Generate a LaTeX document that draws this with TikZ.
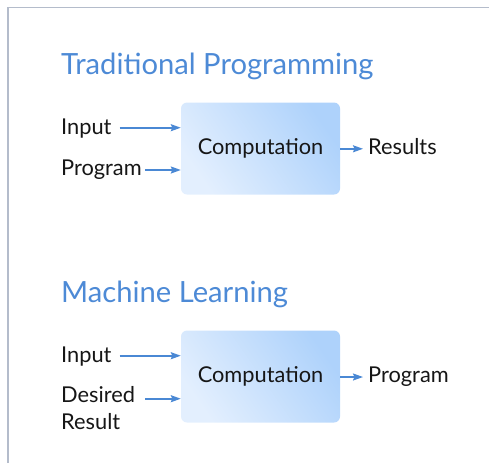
\documentclass[tikz,border=0pt]{standalone}
\usepackage{fontspec}
\setmainfont{Lato}
\usetikzlibrary{arrows.meta,calc}
\definecolor{framegray}{HTML}{B4BCCB}
\definecolor{titleblue}{HTML}{4D8AD6}
\definecolor{arrowblue}{HTML}{4A88D4}
\definecolor{boxdark}{HTML}{AED2FB}
\definecolor{boxlight}{HTML}{E3EFFE}
\definecolor{ink}{HTML}{161616}
\tikzset{
  title/.style={anchor=base west, inner sep=0pt, text=titleblue,
    font=\fontsize{29.2}{35}\selectfont},
  label/.style={anchor=base west, inner sep=0pt, text=ink,
    font=\fontsize{21.8}{26.5}\selectfont},
  compbox/.style={rounded corners=6pt, minimum width=159pt, minimum height=92pt,
    top color=boxdark, bottom color=boxlight, shading angle=-55,
    text=ink, font=\fontsize{21.8}{26.5}\selectfont, inner sep=0pt},
  flow/.style={draw=arrowblue, line width=1.6pt,
    -{Stealth[length=10pt,width=7pt,inset=1.5pt]}},
}
\begin{document}
\begin{tikzpicture}[x=1pt,y=-1pt]
\useasboundingbox (0,0) rectangle (489,463);
% panel frame
\draw[framegray, line width=1.5pt] (8,463) -- (8,7.5) -- (489,7.5);

% traditional programming
\node[title] (t1) at (61,74) {Traditional Programming};
\node[compbox] (c1) at (260.5,148.5) {Computation};
\node[label] (in1) at (61,134.3) {Input};
\node[label] (pr1) at (61,175.5) {Program};
\node[label] (res1) at (368,154.3) {Results};
\draw[flow] ([xshift=8pt,yshift=6.6pt]in1.base east) -- ([yshift=6.6pt]in1.base east -| c1.west);
\draw[flow] ([xshift=3pt,yshift=5.5pt]pr1.base east) -- ([yshift=5.5pt]pr1.base east -| c1.west);
\draw[flow] ([yshift=5.5pt]res1.base west -| c1.east) -- ([xshift=-5pt,yshift=5.5pt]res1.base west);

% machine learning
\node[title] (t2) at (61,302) {Machine Learning};
\node[compbox] (c2) at (260.5,376.5) {Computation};
\node[label] (in2) at (61,362.3) {Input};
\node[label] (ds2) at (61,402.7) {\vtop{\hbox{Desired}\hbox{Result}}};
\node[label] (pg2) at (368,382.5) {Program};
\draw[flow] ([xshift=10pt,yshift=4pt]ds2.base east) -- ([yshift=4pt]ds2.base east -| c2.west);
\draw[flow] ([xshift=8pt,yshift=6.6pt]in2.base east) -- ([yshift=6.6pt]in2.base east -| c2.west);
\draw[flow] ([yshift=5.5pt]pg2.base west -| c2.east) -- ([xshift=-5pt,yshift=5.5pt]pg2.base west);
\end{tikzpicture}
\end{document}
